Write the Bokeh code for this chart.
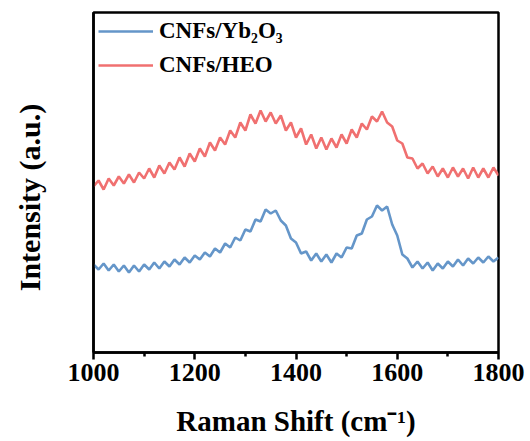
from bokeh.plotting import figure
from bokeh.models import FixedTicker, Range1d, Legend, LegendItem
from bokeh.embed import file_html
from bokeh.resources import INLINE

shift = list(range(1000, 1801, 10))

heo = [166, 172, 163, 174, 167, 176, 169, 178, 170, 180,
       174, 184, 175, 187, 179, 190, 183, 195, 186, 199,
       191, 204, 196, 210, 202, 215, 208, 222, 215, 230,
       222, 238, 229, 242, 231, 240, 229, 237, 222, 230,
       215, 224, 208, 218, 204, 215, 203, 214, 205, 218,
       209, 223, 215, 229, 223, 236, 231, 241, 230, 226,
       212, 209, 195, 194, 184, 189, 179, 186, 176, 184,
       175, 185, 176, 184, 174, 185, 175, 184, 175, 185,
       177]

yb2o3 = [88, 83, 89, 82, 88, 81, 87, 80, 87, 81,
         88, 83, 90, 84, 91, 86, 93, 88, 95, 90,
         97, 93, 100, 96, 104, 100, 109, 105, 115, 112,
         123, 121, 133, 131, 143, 139, 142, 132, 127, 114,
         110, 99, 101, 92, 99, 91, 98, 90, 99, 95,
         105, 104, 117, 119, 133, 136, 147, 142, 146, 128,
         117, 98, 94, 85, 91, 84, 90, 82, 89, 84,
         91, 86, 93, 87, 94, 89, 95, 90, 96, 91,
         95]

labels = ["CNFs/Yb\u2082O\u2083", "CNFs/HEO"]
colors = ["#6596C9", "#F07070"]
major_ticks = [1000, 1200, 1400, 1600, 1800]
minor_ticks = [1100, 1300, 1500, 1700]
x_title = "Raman Shift (cm\u207b\u00b9)"
y_title = "Intensity (a.u.)"

FONT = "Liberation Serif"

p = figure(width=530, height=441, output_backend="svg", toolbar_location=None,
           x_range=Range1d(1000, 1800), y_range=Range1d(0, 340),
           min_border_left=93, min_border_right=32, min_border_top=12,
           min_border_bottom=89)
p.background_fill_color = "white"
p.border_fill_color = "white"
p.grid.visible = False
p.outline_line_color = "black"
p.outline_line_width = 2.5

r1 = p.line(shift, yb2o3, line_color=colors[0], line_width=2.6)
r2 = p.line(shift, heo, line_color=colors[1], line_width=2.6)

legend = Legend(items=[LegendItem(label=labels[0], renderers=[r1]),
                       LegendItem(label=labels[1], renderers=[r2])],
                location="top_left")
legend.border_line_color = None
legend.background_fill_alpha = 0
legend.label_text_font = FONT
legend.label_text_font_style = "bold"
legend.label_text_font_size = "23px"
legend.label_text_color = "black"
legend.glyph_width = 55
legend.glyph_height = 28
legend.label_height = 28
legend.spacing = 6
legend.margin = 5
legend.padding = 10
legend.label_standoff = 6
p.add_layout(legend)

xa = p.xaxis[0]
xa.ticker = FixedTicker(ticks=major_ticks, minor_ticks=minor_ticks)
xa.axis_line_width = 2.5
xa.major_tick_line_width = 2.5
xa.minor_tick_line_width = 2.5
xa.major_tick_in = 0
xa.major_tick_out = 7
xa.minor_tick_in = 0
xa.minor_tick_out = 4
xa.major_label_text_font = FONT
xa.major_label_text_font_style = "bold"
xa.major_label_text_font_size = "26px"
xa.major_label_text_color = "black"
xa.major_label_standoff = 4
xa.axis_label = x_title
xa.axis_label_text_font = FONT
xa.axis_label_text_font_style = "bold"
xa.axis_label_text_font_size = "29px"
xa.axis_label_text_color = "black"
xa.axis_label_standoff = 21

ya = p.yaxis[0]
ya.ticker = FixedTicker(ticks=[])
ya.axis_line_width = 2.5
ya.major_tick_line_color = None
ya.minor_tick_line_color = None
ya.major_label_text_font_size = "0px"
ya.axis_label = y_title + "\u00a0" * 4
ya.axis_label_text_font = FONT
ya.axis_label_text_font_style = "bold"
ya.axis_label_text_font_size = "30px"
ya.axis_label_text_color = "black"
ya.axis_label_standoff = 48

open("out.html", "w").write(file_html(p, INLINE))
